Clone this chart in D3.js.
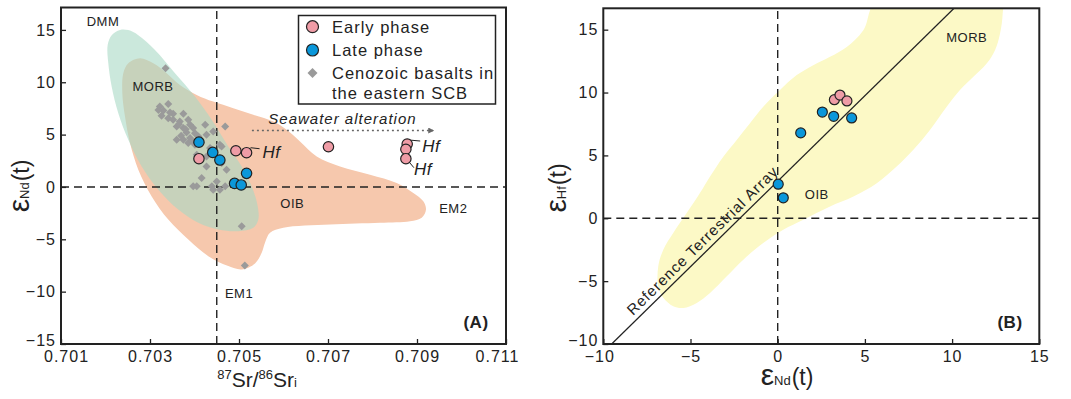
<!DOCTYPE html>
<html>
<head>
<meta charset="utf-8">
<script src="https://cdn.jsdelivr.net/npm/d3@7"></script>
<style>
  body { margin: 0; background: #fff; }
  text { font-family: "Liberation Sans", Arial, sans-serif; fill: #222; }
</style>
</head>
<body>
<div id="chart"></div>
<script>
// ---- panel A data: 87Sr/86Sr(i) vs eNd(t)
const earlySr = [0.70410, 0.70493, 0.70517, 0.70701, 0.70878, 0.70875, 0.70875];
const earlyNd = [2.7, 3.46, 3.27, 3.84, 4.1, 3.6, 2.7];
const lateSr = [0.70410, 0.70441, 0.70457, 0.70517, 0.70490, 0.70505];
const lateNd = [4.28, 3.3, 2.57, 1.3, 0.34, 0.19];
const cenoSr = [0.70335, 0.70341, 0.70322, 0.70330, 0.70319, 0.70352, 0.70375, 0.70326, 0.70341, 0.70352,
  0.70367, 0.70386, 0.70390, 0.70360, 0.70375, 0.70397, 0.70424, 0.70469, 0.70382, 0.70401,
  0.70360, 0.70375, 0.70390, 0.70409, 0.70427, 0.70442, 0.70386, 0.70401, 0.70435, 0.70457,
  0.70461, 0.70405, 0.70427, 0.70461, 0.70472, 0.70427, 0.70416, 0.70405, 0.70450, 0.70439,
  0.70469, 0.70457, 0.70442, 0.70397, 0.70506, 0.70513, 0.70345, 0.70365, 0.70380, 0.70395,
  0.70410, 0.70370];
const cenoNd = [11.33, 7.93, 7.68, 7.30, 7.36, 6.98, 6.98, 6.79, 6.57, 6.41,
  6.25, 6.41, 5.93, 5.77, 5.62, 5.62, 5.93, 5.77, 5.20, 5.14,
  4.50, 4.50, 4.67, 4.82, 4.98, 5.30, 4.19, 4.03, 3.71, 4.03,
  3.87, 3.08, 2.91, 2.29, 1.65, 1.96, 0.86, 0.06, 0.53, 0.06,
  0.06, -0.26, -0.26, 0.06, -3.75, -7.50, 7.1, 6.0, 5.5, 4.4,
  4.4, 4.9];
// early-phase samples that also have Hf data (index in earlySr)
const hfLabelled = [2, 4, 6];

// fields in panel A, outlines in data units
const dmmField = [[0.702326, 15.0], [0.702139, 14.5], [0.702049, 13.55], [0.702063, 11.81], [0.702139, 9.58],
  [0.702288, 7.05], [0.702512, 4.5], [0.702813, 1.96], [0.703187, -0.26], [0.703636, -2.16],
  [0.704085, -3.43], [0.704535, -4.07], [0.704984, -4.23], [0.705321, -3.9], [0.705434, -3.11],
  [0.70542, -1.85], [0.705285, 0.06], [0.705061, 1.96], [0.70476, 3.87], [0.704387, 6.41],
  [0.704011, 8.63], [0.703562, 10.86], [0.703112, 13.08], [0.702737, 14.5], [0.702512, 14.98]];
const oibField = [[0.702775, 12.29], [0.703074, 11.81], [0.703375, 10.86], [0.703674, 9.74], [0.704049, 8.79],
  [0.704422, 8.15], [0.704872, 7.52], [0.705321, 6.89], [0.705771, 6.25], [0.706072, 5.46],
  [0.706371, 4.34], [0.706746, 2.91], [0.70727, 1.96], [0.707944, 1.17], [0.708544, 0.38],
  [0.708917, -0.57], [0.709142, -1.37], [0.709202, -2.16], [0.709106, -2.95], [0.708843, -3.28],
  [0.708169, -3.43], [0.707045, -3.59], [0.705996, -3.9], [0.705697, -4.38], [0.705584, -5.33],
  [0.70551, -6.29], [0.70536, -7.3], [0.705061, -7.88], [0.70476, -7.56], [0.70431, -6.61],
  [0.703861, -5.02], [0.703411, -3.11], [0.703038, -0.9], [0.702737, 1.65], [0.702551, 4.19],
  [0.702438, 6.72], [0.702378, 8.95], [0.7024, 10.86], [0.702512, 11.81]];

const srTicks = [0.701, 0.703, 0.705, 0.707, 0.709, 0.711];
const ndTicksA = [-15, -10, -5, 0, 5, 10, 15];
const srRef = 0.7045;          // bulk earth
const seawater = [0.70529, 0.70936, 5.39];   // x0, x1, y of the arrow

// ---- panel B data: eNd(t) vs eHf(t)
const earlyNdB = [3.25, 3.57, 3.97];
const earlyHfB = [9.43, 9.8, 9.33];
const lateNdB = [0.03, 0.32, 1.32, 2.56, 3.21, 4.24];
const lateHfB = [2.71, 1.63, 6.79, 8.45, 8.11, 7.98];
const mantleField = [[5.77, 17.5], [12.84, 17.5], [12.9, 16.28], [12.75, 14.7], [12.46, 13.37], [11.98, 12.31],
  [11.22, 11.25], [10.45, 10.2], [9.69, 8.87], [8.73, 7.02], [7.78, 5.44], [6.82, 4.11],
  [5.68, 2.79], [4.34, 1.73], [3.0, 0.94], [1.47, -0.12], [0.32, -0.91], [-0.83, -1.97],
  [-1.97, -3.29], [-2.92, -4.62], [-3.88, -5.94], [-4.64, -6.73], [-5.41, -7.13], [-5.99, -7.0],
  [-6.56, -6.33], [-6.85, -5.41], [-6.85, -3.83], [-6.56, -2.5], [-5.99, -1.17], [-5.22, 0.41],
  [-4.46, 2.0], [-3.88, 3.32], [-3.12, 4.9], [-2.35, 6.23], [-1.59, 7.56], [-0.83, 8.87],
  [0.13, 10.2], [1.09, 11.39], [2.04, 12.18], [3.0, 12.84], [3.96, 13.63], [4.91, 14.96]];
const ndTicksB = [-10, -5, 0, 5, 10, 15];
const hfTicksB = [-10, -5, 0, 5, 10, 15];
const rtaSlope = 1.36, rtaIntercept = 2.95;   // terrestrial array

const pink = "#ef9ca6", blue = "#0a97da", grey = "#9a9a9a";

const svg = d3.select("#chart").append("svg")
  .attr("width", 1071).attr("height", 399)
  .style("background", "#fff");

const xA = d3.scaleLinear().domain([0.701, 0.711]).range([61, 506]);
const yA = d3.scaleLinear().domain([-15, 17.14]).range([344, 7.5]);
const xB = d3.scaleLinear().domain([-10, 15]).range([603.3, 1039.3]);
const yB = d3.scaleLinear().domain([-10, 16.7]).range([344, 8.3]);

const defs = svg.append("defs");
function clip(id, x, y) {
  defs.append("clipPath").attr("id", id).append("rect")
    .attr("x", x.range()[0]).attr("y", y.range()[1])
    .attr("width", x.range()[1] - x.range()[0]).attr("height", y.range()[0] - y.range()[1]);
}
clip("clipA", xA, yA);
clip("clipB", xB, yB);

defs.append("marker").attr("id", "arrow").attr("viewBox", "0 0 10 10")
  .attr("refX", 8).attr("refY", 5).attr("markerWidth", 6).attr("markerHeight", 6)
  .attr("markerUnits", "userSpaceOnUse").attr("orient", "auto")
  .append("path").attr("d", "M0,0L10,5L0,10z").attr("fill", "#666");

function axes(x, y, xTicks, yTicks, xFmt) {
  const gx = svg.append("g").attr("color", "#222")
    .attr("transform", `translate(0,${y.range()[0]})`)
    .call(d3.axisBottom(x).tickValues(xTicks).tickFormat(xFmt).tickSizeInner(-5).tickSizeOuter(0).tickPadding(7));
  const gy = svg.append("g").attr("color", "#222")
    .attr("transform", `translate(${x.range()[0]},0)`)
    .call(d3.axisLeft(y).tickValues(yTicks).tickFormat(d3.format("d")).tickSizeInner(-5).tickSizeOuter(0).tickPadding(5));
  [gx, gy].forEach(g => {
    g.select(".domain").remove();
    g.selectAll("line").attr("stroke-width", 1.3);
    g.selectAll("text").attr("font-size", "16px").attr("letter-spacing", "1px")
      .attr("font-family", '"Liberation Sans", Arial, sans-serif');
  });
  // lowest y label sits a little above its tick, clear of the x labels
  gy.selectAll(".tick text").filter(d => d === yTicks[0]).attr("dy", "0.1em");
  return gx;
}

function dashed(g, x, y, xv, yv) {
  g.append("line").attr("x1", x(xv)).attr("x2", x(xv)).attr("y1", y.range()[0]).attr("y2", y.range()[1])
    .attr("stroke", "#222").attr("stroke-width", 1.4).attr("stroke-dasharray", "8,5");
  g.append("line").attr("x1", x.range()[0]).attr("x2", x.range()[1]).attr("y1", y(yv)).attr("y2", y(yv))
    .attr("stroke", "#222").attr("stroke-width", 1.4).attr("stroke-dasharray", "8,5");
}

function label(g, txt, x, y, size, opts = {}) {
  return g.append("text").attr("x", x).attr("y", y).attr("text-anchor", opts.anchor || "middle")
    .attr("font-size", size + "px").attr("letter-spacing", opts.ls || "0.5px")
    .attr("font-weight", opts.bold ? "bold" : null).attr("font-style", opts.italic ? "italic" : null)
    .text(txt);
}

function diamond(g, cx, cy, size) {
  g.append("path").attr("d", d3.symbol(d3.symbolSquare, size)())
    .attr("transform", `translate(${cx},${cy}) rotate(45)`).attr("fill", grey);
}

function epsLabel(x, y, sub, rotate) {
  const t = svg.append("text").attr("text-anchor", "middle")
    .attr("transform", `translate(${x},${y})` + (rotate ? " rotate(-90)" : ""));
  t.append("tspan").attr("font-size", "30px").text("ε");
  t.append("tspan").attr("font-size", "13px").text(sub);
  t.append("tspan").attr("font-size", "23px").attr("dx", 1).text("(t)");
}

const curve = d3.curveCatmullRomClosed.alpha(0.5);

// ================= panel A =================
const gA = svg.append("g").attr("clip-path", "url(#clipA)");
const fieldA = d3.line().x(d => xA(d[0])).y(d => yA(d[1])).curve(curve);
gA.append("path").attr("d", fieldA(oibField)).attr("fill", "#f6c8ad");
gA.append("path").attr("d", fieldA(dmmField)).attr("fill", "#a9d9c4").attr("opacity", 0.6);
dashed(gA, xA, yA, srRef, 0);

gA.append("line")
  .attr("x1", xA(seawater[0])).attr("x2", xA(seawater[1]))
  .attr("y1", yA(seawater[2])).attr("y2", yA(seawater[2]))
  .attr("stroke", "#666").attr("stroke-width", 1.3).attr("stroke-dasharray", "2,3")
  .attr("marker-end", "url(#arrow)");
label(gA, "Seawater alteration", (xA(seawater[0]) + xA(seawater[1])) / 2, yA(seawater[2]) - 7, 15, { italic: true, ls: "1px" });

cenoSr.forEach((s, i) => diamond(gA, xA(s), yA(cenoNd[i]), 32));

// Hf leader lines
const hfLeaders = [[4, -5, 13, -4, 16, 5], [2, -4, 13, -3, 15, 8], [3, 3, 8, 9, 8, 16]];
hfLabelled.forEach((idx, k) => {
  const cx = xA(earlySr[idx]), cy = yA(earlyNd[idx]);
  const o = hfLeaders[k];
  gA.append("line").attr("x1", cx + o[0]).attr("y1", cy + o[1]).attr("x2", cx + o[2]).attr("y2", cy + o[3])
    .attr("stroke", "#222").attr("stroke-width", 1);
  label(gA, "Hf", cx + o[4], cy + o[5], 17, { italic: true, anchor: "start", ls: "0.5px" });
});

gA.selectAll(".late").data(lateSr).enter().append("circle")
  .attr("cx", d => xA(d)).attr("cy", (d, i) => yA(lateNd[i])).attr("r", 5.2)
  .attr("fill", blue).attr("stroke", "#222").attr("stroke-width", 1.2);
gA.selectAll(".early").data(earlySr).enter().append("circle")
  .attr("cx", d => xA(d)).attr("cy", (d, i) => yA(earlyNd[i])).attr("r", 5.2)
  .attr("fill", pink).attr("stroke", "#222").attr("stroke-width", 1.2);

label(gA, "DMM", xA(0.701944), yA(15.39), 13);
label(gA, "MORB", xA(0.703067), yA(9.2), 13);
label(gA, "OIB", xA(0.706198), yA(-2.0), 13);
label(gA, "EM2", xA(0.709816), yA(-2.48), 13);
label(gA, "EM1", xA(0.705), yA(-10.64), 13);
label(gA, "(A)", 476, 328, 17, { bold: true });

const axA = axes(xA, yA, srTicks, ndTicksA, d3.format(".3f"));
axA.selectAll(".tick text").attr("dx", d => d === 0.701 ? 5 : d === 0.711 ? -9 : 0);
svg.append("rect").attr("x", 61).attr("y", 7.5).attr("width", 445).attr("height", 336.5)
  .attr("fill", "none").attr("stroke", "#222").attr("stroke-width", 2);

// legend
const lg = svg.append("g");
lg.append("rect").attr("x", 298.5).attr("y", 15.5).attr("width", 197).attr("height", 88.5)
  .attr("fill", "#fff").attr("stroke", "#222").attr("stroke-width", 1.5);
lg.append("circle").attr("cx", 312.5).attr("cy", 26.7).attr("r", 6).attr("fill", pink).attr("stroke", "#222").attr("stroke-width", 1.2);
lg.append("circle").attr("cx", 312.5).attr("cy", 50).attr("r", 6).attr("fill", blue).attr("stroke", "#222").attr("stroke-width", 1.2);
diamond(lg, 312.5, 73, 50);
label(lg, "Early phase", 332, 32.7, 16.5, { anchor: "start", ls: "1px" });
label(lg, "Late phase", 332, 56, 16.5, { anchor: "start", ls: "1px" });
label(lg, "Cenozoic basalts in", 332, 78.5, 16.5, { anchor: "start", ls: "1px" });
label(lg, "the eastern SCB", 332, 98.5, 16.5, { anchor: "start", ls: "1px" });

// axis titles A
epsLabel(29, 186, "Nd", true);
const xt = svg.append("text").attr("x", 257).attr("y", 387).attr("text-anchor", "middle").attr("font-size", "21px");
xt.append("tspan").attr("font-size", "13px").attr("dy", -8).text("87");
xt.append("tspan").attr("dy", 8).text("Sr/");
xt.append("tspan").attr("font-size", "13px").attr("dy", -8).text("86");
xt.append("tspan").attr("dy", 8).text("Sr");
xt.append("tspan").attr("font-size", "13px").text("i");

// ================= panel B =================
const gB = svg.append("g").attr("clip-path", "url(#clipB)");
const fieldB = d3.line().x(d => xB(d[0])).y(d => yB(d[1])).curve(curve);
gB.append("path").attr("d", fieldB(mantleField)).attr("fill", "#fcf9c6");
dashed(gB, xB, yB, 0, 0);

const rtaX = [-11, 11];
gB.append("line")
  .attr("x1", xB(rtaX[0])).attr("y1", yB(rtaSlope * rtaX[0] + rtaIntercept))
  .attr("x2", xB(rtaX[1])).attr("y2", yB(rtaSlope * rtaX[1] + rtaIntercept))
  .attr("stroke", "#222").attr("stroke-width", 1.3);
const angle = Math.atan2(yB(rtaSlope * 1 + rtaIntercept) - yB(rtaIntercept), xB(1) - xB(0)) * 180 / Math.PI;
const rtaStart = -8.1;
gB.append("text")
  .attr("transform", `translate(${xB(rtaStart)},${yB(rtaSlope * rtaStart + rtaIntercept)}) rotate(${angle})`)
  .attr("dy", -5).attr("font-size", "15px").attr("letter-spacing", "1px")
  .text("Reference Terrestrial Array");

gB.selectAll(".late").data(lateNdB).enter().append("circle")
  .attr("cx", d => xB(d)).attr("cy", (d, i) => yB(lateHfB[i])).attr("r", 5)
  .attr("fill", blue).attr("stroke", "#222").attr("stroke-width", 1.2);
gB.selectAll(".early").data(earlyNdB).enter().append("circle")
  .attr("cx", d => xB(d)).attr("cy", (d, i) => yB(earlyHfB[i])).attr("r", 5)
  .attr("fill", pink).attr("stroke", "#222").attr("stroke-width", 1.2);

label(gB, "MORB", xB(10.84), yB(14.0), 13);
label(gB, "OIB", xB(2.24), yB(1.53), 13);
label(gB, "(B)", 1010, 328, 17, { bold: true });

const axB = axes(xB, yB, ndTicksB, hfTicksB, d3.format("d"));
axB.selectAll(".tick text").attr("dx", d => d === -10 ? -4 : 0);
svg.append("rect").attr("x", 603.3).attr("y", 8.3).attr("width", 436).attr("height", 335.7)
  .attr("fill", "none").attr("stroke", "#222").attr("stroke-width", 2);

epsLabel(566, 188, "Hf", true);
epsLabel(787, 385, "Nd", false);
</script>
</body>
</html>
